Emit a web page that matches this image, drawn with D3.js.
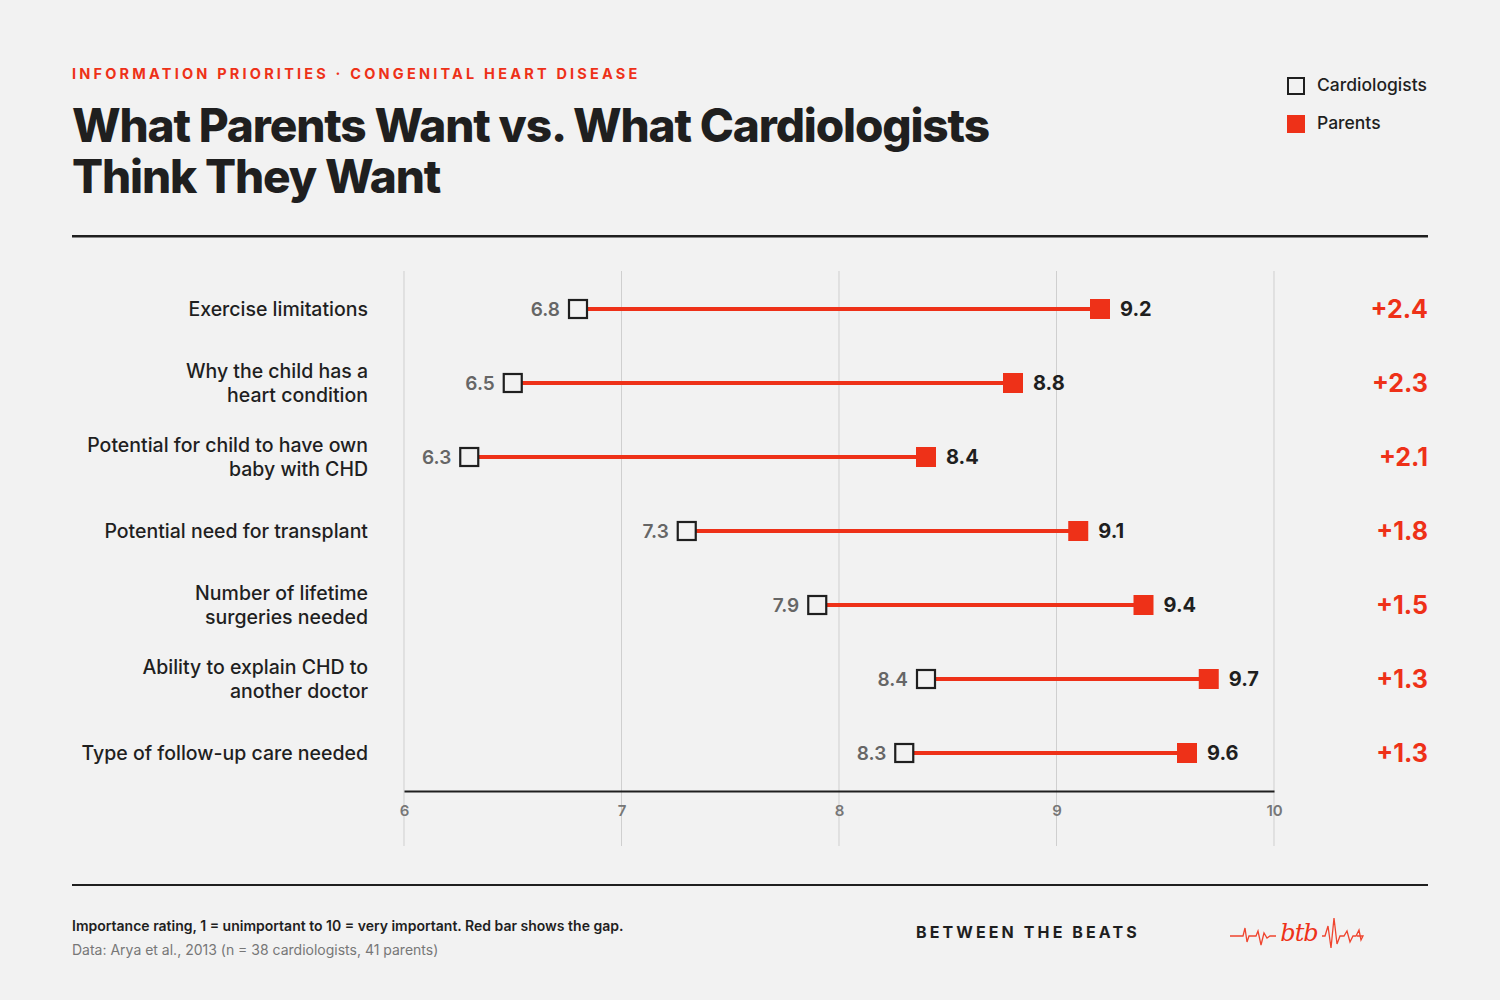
<!DOCTYPE html>
<html><head><meta charset="utf-8">
<script src="https://cdn.jsdelivr.net/npm/d3@7"></script>
<style>body{margin:0;background:#f2f2f2;font-family:Inter,"Noto Sans",sans-serif}</style>
</head><body>
<script>
const labels = [["Exercise limitations"],["Why the child has a","heart condition"],["Potential for child to have own","baby with CHD"],["Potential need for transplant"],["Number of lifetime","surgeries needed"],["Ability to explain CHD to","another doctor"],["Type of follow-up care needed"]];
const cardiologists = [6.8,6.5,6.3,7.3,7.9,8.4,8.3];
const parents = [9.2,8.8,8.4,9.1,9.4,9.7,9.6];
const gaps = ["+2.4","+2.3","+2.1","+1.8","+1.5","+1.3","+1.3"];
const ticks = [6,7,8,9,10];
const red = "#ee3118", ink = "#1f1f1f";

const svg = d3.select('body').append('svg').attr('width',1500).attr('height',1000);
svg.append('rect').attr('width',1500).attr('height',1000).attr('fill','#f2f2f2');

svg.append('text').attr('x',72).attr('y',79).attr('fill',red).attr('font-size',14.5).attr('font-weight',700)
  .attr('letter-spacing',3.2).text('INFORMATION PRIORITIES · CONGENITAL HEART DISEASE');
['What Parents Want vs. What Cardiologists','Think They Want'].forEach((t,i)=>
  svg.append('text').attr('x',72).attr('y',142+i*51).attr('fill',ink).attr('font-size',46).attr('font-weight',800)
    .attr('letter-spacing',-1.15).text(t));
svg.append('rect').attr('x',72).attr('y',235).attr('width',1356).attr('height',2.5).attr('fill',ink);

// legend
svg.append('rect').attr('x',1288).attr('y',78).attr('width',16).attr('height',16).attr('fill','none').attr('stroke',ink).attr('stroke-width',2);
svg.append('text').attr('x',1317).attr('y',91).attr('font-size',17.5).attr('font-weight',500).attr('fill',ink).text('Cardiologists');
svg.append('rect').attr('x',1287).attr('y',115).attr('width',18).attr('height',18).attr('fill',red);
svg.append('text').attr('x',1317).attr('y',129).attr('font-size',17.5).attr('font-weight',500).attr('fill',ink).text('Parents');

const x = d3.scaleLinear().domain([6,10]).range([404,1274]);
const y = d3.scaleBand().domain(d3.range(labels.length)).range([272,790]).padding(0);
const cy = i => y(i)+y.bandwidth()/2;

const g = svg.append('g');
g.selectAll('.grid').data(ticks).join('line').attr('x1',d=>x(d)).attr('x2',d=>x(d))
  .attr('y1',271).attr('y2',846).attr('stroke','#cfcfcf').attr('stroke-width',1);
svg.append('g').attr('transform','translate(0,791)')
  .call(d3.axisBottom(x).tickValues(ticks).tickSize(0).tickPadding(14).tickFormat(d3.format('d')))
  .call(a=>{a.select('.domain').attr('stroke',ink).attr('stroke-width',2);
    a.selectAll('text').attr('font-family','Inter,sans-serif').attr('font-size',15).attr('font-weight',600).attr('fill','#777');});

labels.forEach((l,i)=>{
  const t = g.append('text').attr('x',368).attr('text-anchor','end').attr('font-size',19.5).attr('fill',ink).attr('font-weight',500);
  l.forEach((s,j)=>t.append('tspan').attr('x',368).attr('y',cy(i)+7+(j-(l.length-1)/2)*24).text(s));
});

const rows = d3.range(labels.length);
g.selectAll('.bar').data(rows).join('line').attr('x1',i=>x(cardiologists[i])).attr('x2',i=>x(parents[i]))
  .attr('y1',cy).attr('y2',cy).attr('stroke',red).attr('stroke-width',4);
g.selectAll('.c').data(rows).join('rect').attr('x',i=>x(cardiologists[i])-9).attr('y',i=>cy(i)-9)
  .attr('width',18).attr('height',18).attr('fill','#f2f2f2').attr('stroke',ink).attr('stroke-width',2.2);
g.selectAll('.p').data(rows).join('rect').attr('x',i=>x(parents[i])-10).attr('y',i=>cy(i)-10)
  .attr('width',20).attr('height',20).attr('fill',red);
g.selectAll('.cl').data(rows).join('text').attr('x',i=>x(cardiologists[i])-18).attr('y',i=>cy(i)+7)
  .attr('text-anchor','end').attr('font-size',19).attr('font-weight',600).attr('fill','#666').text(i=>cardiologists[i].toFixed(1));
g.selectAll('.pl').data(rows).join('text').attr('x',i=>x(parents[i])+20).attr('y',i=>cy(i)+7)
  .attr('font-size',20).attr('font-weight',700).attr('fill',ink).text(i=>parents[i].toFixed(1));
g.selectAll('.gap').data(rows).join('text').attr('x',1428).attr('y',i=>cy(i)+9)
  .attr('text-anchor','end').attr('font-size',25).attr('font-weight',700).attr('fill',red).text(i=>gaps[i]);

// footer
svg.append('rect').attr('x',72).attr('y',884).attr('width',1356).attr('height',2).attr('fill',ink);
svg.append('text').attr('x',72).attr('y',931).attr('font-size',14).attr('font-weight',600).attr('fill',ink)
  .text('Importance rating, 1 = unimportant to 10 = very important. Red bar shows the gap.');
svg.append('text').attr('x',72).attr('y',955).attr('font-size',14).attr('fill','#777')
  .text('Data: Arya et al., 2013 (n = 38 cardiologists, 41 parents)');
svg.append('text').attr('x',916).attr('y',938).attr('font-size',16).attr('font-weight',700).attr('letter-spacing',3.1).attr('fill',ink)
  .text('BETWEEN THE BEATS');
// logo
const logo = svg.append('g').attr('transform','translate(1230,936)');
logo.append('path').attr('d','M0,0 H13 L15,-8 L17,6 L19,0 H26 L28,-5 L31,9 L34,-3 L37,2 L40,0 H46 M92,0 H95 L98,-10 L101,12 L104,-18 L107,8 L110,0 H114 L117,-5 L120,6 L123,0 H126 L129,-6 L131,4 L133,0 H127')
  .attr('fill','none').attr('stroke',red).attr('stroke-width',1.3).attr('opacity',0.9);
logo.append('text').attr('x',69).attr('y',5).attr('text-anchor','middle').attr('font-size',24).attr('font-style','italic')
  .attr('font-family','"DejaVu Serif",serif').attr('letter-spacing',-1).attr('fill',red).text('btb');
</script>
</body></html>
